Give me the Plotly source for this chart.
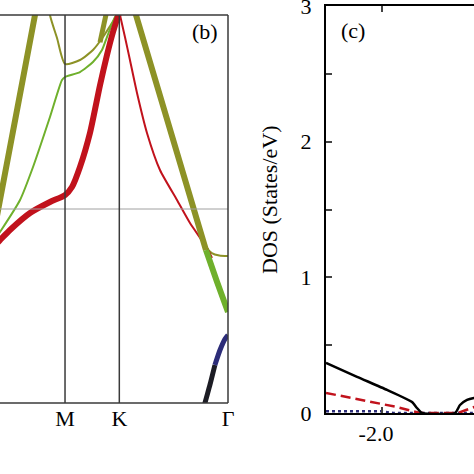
import plotly.graph_objects as go

# ---------------- data: band structure (k path units, energy eV) ----------------
k_ticks = [1.0, 1.577, 2.732]
k_labels = ["M", "K", "Γ"]

# thick olive band, left
b1_k = [0.25, 0.309, 0.681, 0.72]
b1_e = [-0.21, 0.093, 2.0, 2.2]

# thin olive band through M
b2_k = [0.80, 0.840, 0.915, 1.0, 1.159, 1.297, 1.404, 1.499, 1.577]
b2_e = [2.4, 2.0, 1.763, 1.495, 1.536, 1.639, 1.773, 1.918, 2.02]

# thin green band
b3_k = [0.25, 0.309, 0.522, 0.660, 0.840, 0.968, 1.0, 1.159, 1.297, 1.393, 1.446, 1.531, 1.577]
b3_e = [-0.32, -0.237, 0.093, 0.433, 0.948, 1.330, 1.361, 1.412, 1.515, 1.639, 1.773, 1.979, 2.03]

# thick red band
b4_k = [0.25, 0.309, 0.415, 0.628, 0.840, 1.0, 1.074, 1.159, 1.265, 1.372, 1.446, 1.510, 1.577]
b4_e = [-0.38, -0.320, -0.216, -0.041, 0.072, 0.144, 0.227, 0.433, 0.784, 1.278, 1.588, 1.825, 2.03]

# thin red band from K towards Gamma
b5_k = [1.577, 1.637, 1.690, 1.765, 1.871, 2.009, 2.190, 2.328, 2.509, 2.562]
b5_e = [2.03, 1.773, 1.536, 1.196, 0.784, 0.402, 0.093, -0.144, -0.402, -0.505]

# thick olive band right of K (upper part) and its green lower part
b6_k = [1.70, 1.754, 2.498]
b6_e = [2.18, 2.0, -0.423]
b6g_k = [2.498, 2.615, 2.732]
b6g_e = [-0.423, -0.75, -1.062]

# thin olive band near Gamma
b7_k = [2.44, 2.509, 2.560, 2.640, 2.732]
b7_e = [-0.23, -0.402, -0.455, -0.48, -0.485]

# thick olive fragment left of K
b8_k = [1.372, 1.457]
b8_e = [1.72, 2.10]

# dark band at Gamma (black lower part, navy upper part)
b9_k = [2.466, 2.487, 2.540, 2.593]
b9_e = [-2.09, -2.0, -1.814, -1.608]
b9n_k = [2.593, 2.647, 2.700, 2.732]
b9n_e = [-1.608, -1.454, -1.340, -1.299]

# ---------------- data: DOS ----------------
dos_E = [-2.5, -2.223, -1.955, -1.732, -1.688, -1.643, -1.348, -1.304, -1.241, -1.179, -1.125]
dos_tot = [0.370, 0.267, 0.170, 0.081, 0.037, 0.0, 0.0, 0.059, 0.096, 0.111, 0.118]
dos_red_E = [-2.5, -2.170, -1.866, -1.661, -1.321, -1.25, -1.179, -1.125]
dos_red = [0.148, 0.096, 0.044, 0.0, 0.0, 0.022, 0.044, 0.06]
dos_blue_E = [-2.5, -2.0, -1.9, -1.125]
dos_blue = [0.012, 0.012, 0.0, 0.0]
dos_yticks = [0, 1, 2, 3]
dos_yminor = [0.5, 1.5, 2.5]
dos_xticks = [-2.0]
dos_xlabels = ["-2.0"]
dos_title = "DOS (States/eV)"

OLIVE = "#8d9226"
GREEN = "#6fb02c"
RED = "#c1121c"
NAVY = "#2c2c78"
BLACK = "#1c1c24"
SERIF = "Liberation Serif"

fig = go.Figure()

def band(k, e, color, width):
    fig.add_trace(go.Scatter(x=k, y=e, mode="lines", xaxis="x", yaxis="y",
                             line=dict(color=color, width=width, shape="spline", smoothing=0.6),
                             hoverinfo="skip", showlegend=False))

band(b1_k, b1_e, OLIVE, 6)
band(b7_k, b7_e, OLIVE, 2)
band(b5_k, b5_e, RED, 2)
band(b6_k, b6_e, OLIVE, 6)
band(b6g_k, b6g_e, GREEN, 6)
band(b2_k, b2_e, OLIVE, 2)
band(b3_k, b3_e, GREEN, 2)
band(b8_k, b8_e, OLIVE, 5)
band(b4_k, b4_e, RED, 6)
band(b9_k, b9_e, BLACK, 5)
band(b9n_k, b9n_e, NAVY, 5)

fig.add_trace(go.Scatter(x=dos_blue_E, y=dos_blue, mode="lines", xaxis="x2", yaxis="y2",
                         line=dict(color=NAVY, width=2.5, dash="dot"), showlegend=False, hoverinfo="skip"))
fig.add_trace(go.Scatter(x=dos_red_E, y=dos_red, mode="lines", xaxis="x2", yaxis="y2",
                         line=dict(color=RED, width=2.5, dash="10px,5px"), showlegend=False, hoverinfo="skip"))
fig.add_trace(go.Scatter(x=dos_E, y=dos_tot, mode="lines", xaxis="x2", yaxis="y2",
                         line=dict(color="black", width=2.5, shape="spline", smoothing=0.5),
                         showlegend=False, hoverinfo="skip"))

W = 474.0
shapes = []
# Fermi level
shapes.append(dict(type="line", xref="x domain", yref="y", x0=0, x1=1, y0=0, y1=0,
                   line=dict(color="#a0a0a0", width=1)))
# high-symmetry verticals
for kv in k_ticks[:2]:
    shapes.append(dict(type="line", xref="x", yref="y domain", x0=kv, x1=kv, y0=0, y1=1,
                       line=dict(color="#3a3a3a", width=1.5)))
# frame of panel (b): top, bottom, right
shapes.append(dict(type="line", xref="x domain", yref="y domain", x0=0, x1=1, y0=1, y1=1,
                   line=dict(color="#3a3a3a", width=1.5)))
shapes.append(dict(type="line", xref="x domain", yref="y domain", x0=0, x1=1, y0=0, y1=0,
                   line=dict(color="#3a3a3a", width=1.5)))
shapes.append(dict(type="line", xref="x domain", yref="y domain", x0=1, x1=1, y0=0, y1=1,
                   line=dict(color="#3a3a3a", width=1.5)))

fig.update_layout(
    width=474, height=474,
    margin=dict(l=0, r=0, t=0, b=0, autoexpand=False),
    paper_bgcolor="white", plot_bgcolor="white",
    font=dict(family=SERIF, size=22, color="black"),
    shapes=shapes,
    xaxis=dict(domain=[0, 228 / W], range=[0.309, 2.732], tickvals=k_ticks, ticktext=k_labels,
               showgrid=False, zeroline=False, showline=False, ticks="", automargin=False,
               tickfont=dict(family=SERIF, size=22)),
    yaxis=dict(domain=[1 - 403 / W, 1 - 15 / W], range=[-2, 2], showgrid=False, zeroline=False,
               showline=False, showticklabels=False, ticks="", automargin=False),
    xaxis2=dict(domain=[326 / W, 1], range=[-2.5, -1.179], anchor="y2", automargin=False,
                tickvals=dos_xticks, ticktext=dos_xlabels, ticks="inside", ticklen=6, tickwidth=2,
                ticklabelshift=-6,
                showline=True, linecolor="black", linewidth=2, mirror="ticks",
                showgrid=False, zeroline=False, tickfont=dict(family=SERIF, size=22)),
    yaxis2=dict(domain=[1 - 413 / W, 1 - 6 / W], range=[0, 3], anchor="x2", automargin=False,
                tickvals=dos_yticks, ticks="inside", ticklen=6, tickwidth=2,
                ticklabeloverflow="allow", ticklabelstandoff=8,
                minor=dict(tickvals=dos_yminor, ticks="inside", ticklen=6, tickwidth=2),
                showline=True, linecolor="black", linewidth=2, mirror=False,
                showgrid=False, zeroline=False, tickfont=dict(family=SERIF, size=22)),
    annotations=[
        dict(text="(b)", x=205 / W, y=1 - 32 / W, xref="paper", yref="paper", showarrow=False,
             xanchor="center", yanchor="middle", font=dict(family=SERIF, size=22)),
        dict(text="(c)", x=353 / W, y=1 - 31 / W, xref="paper", yref="paper", showarrow=False,
             xanchor="center", yanchor="middle", font=dict(family=SERIF, size=22)),
        dict(text=dos_title, x=270 / W, y=1 - 200 / W, xref="paper", yref="paper", showarrow=False,
             xanchor="center", yanchor="middle", textangle=-90, font=dict(family=SERIF, size=22)),
    ],
)

fig.write_html("out.html", config={"displayModeBar": False},
               post_script="document.body.style.margin='0px';")
